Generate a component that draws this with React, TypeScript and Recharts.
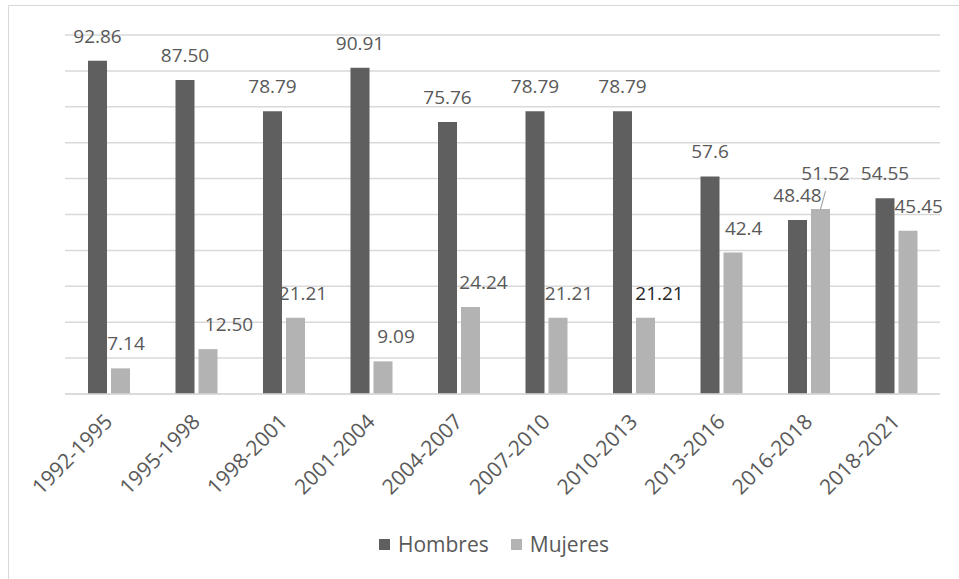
import { BarChart, Bar, XAxis, YAxis, CartesianGrid, Legend, LabelList } from "recharts";

const periodos = [
  "1992-1995",
  "1995-1998",
  "1998-2001",
  "2001-2004",
  "2004-2007",
  "2007-2010",
  "2010-2013",
  "2013-2016",
  "2016-2018",
  "2018-2021",
];
// alturas de barra (2013-2016 se dibuja más alto que su etiqueta)
const hombres = [92.86, 87.5, 78.79, 90.91, 75.76, 78.79, 78.79, 60.61, 48.48, 54.55];
const mujeres = [7.14, 12.5, 21.21, 9.09, 24.24, 21.21, 21.21, 39.39, 51.52, 45.45];
const etiquetasHombres = ["92.86", "87.50", "78.79", "90.91", "75.76", "78.79", "78.79", "57.6", "48.48", "54.55"];
const etiquetasMujeres = ["7.14", "12.50", "21.21", "9.09", "24.24", "21.21", "21.21", "42.4", "51.52", "45.45"];
const yTicks = [0, 10, 20, 30, 40, 50, 60, 70, 80, 90, 100];

// desplazamientos de las etiquetas de Mujeres (como en el original)
const dxMujeres = [5.5, 21, 7.5, 13, 13, 11, 14, 10.7, 5, 10.7];
const dyMujeres = [0, 0, 0, 0, 0, 0, 0, 0, -11, 0];

const OSCURO = "#5f5f5f";
const CLARO = "#b3b3b3";
const TEXTO = "#595959";
const FUENTE = "'Open Sans', sans-serif";

const data = periodos.map((p, i) => ({
  periodo: p,
  Hombres: hombres[i],
  Mujeres: mujeres[i],
}));

const EtiquetaHombres = (props: any) => {
  const { x, y, width, index } = props;
  return (
    <text x={x + width / 2} y={y - 18} textAnchor="middle" fill={TEXTO} fontSize={19} fontFamily={FUENTE}>
      {etiquetasHombres[index]}
    </text>
  );
};

const EtiquetaMujeres = (props: any) => {
  const { x, y, width, index } = props;
  const cx = x + width / 2;
  const dx = dxMujeres[index];
  const dy = dyMujeres[index];
  return (
    <g>
      {dy !== 0 && <line x1={cx} y1={y} x2={cx + 5} y2={y - 18} stroke="#a6a6a6" strokeWidth={1.2} />}
      <text
        x={cx + dx}
        y={y - 18 + dy}
        textAnchor="middle"
        fill={index === 6 ? "#262626" : TEXTO}
        fontSize={19}
        fontFamily={FUENTE}
      >
        {etiquetasMujeres[index]}
      </text>
    </g>
  );
};

const TickPeriodo = (props: any) => {
  const { x, y, payload } = props;
  const ax = x + 5;
  const ay = y + 21;
  return (
    <text
      x={ax}
      y={ay}
      transform={`rotate(-45, ${ax}, ${ay})`}
      textAnchor="end"
      fill={TEXTO}
      fontSize={21}
      fontFamily={FUENTE}
    >
      {payload.value}
    </text>
  );
};

const Leyenda = () => (
  <div
    style={{
      display: "flex",
      justifyContent: "center",
      alignItems: "center",
      height: 40,
      paddingTop: 4,
      marginLeft: -17,
      fontFamily: FUENTE,
      fontSize: 21,
      color: TEXTO,
    }}
  >
    <span style={{ display: "inline-block", width: 11, height: 11, background: OSCURO, marginRight: 8 }} />
    <span style={{ marginRight: 22 }}>Hombres</span>
    <span style={{ display: "inline-block", width: 11, height: 11, background: CLARO, marginRight: 8 }} />
    <span>Mujeres</span>
  </div>
);

export default function App() {
  return (
    <div
      style={{
        position: "absolute",
        left: 0,
        top: 0,
        width: 959,
        height: 579,
        background: "#fff",
        overflow: "hidden",
      }}
    >
      <div
        style={{
          position: "absolute",
          left: 8,
          top: 5,
          width: 1000,
          height: 1000,
          border: "1.5px solid #d9d9d9",
        }}
      />
      <div style={{ position: "absolute", left: 0, top: 0 }}>
        <BarChart
          width={959}
          height={579}
          data={data}
          margin={{ top: 35, right: 19, bottom: 19, left: 65 }}
          barCategoryGap="26%"
          barGap={4}
        >
          <CartesianGrid vertical={false} stroke="#d9d9d9" strokeWidth={1.5} />
          <YAxis hide domain={[0, 100]} ticks={yTicks} />
          <XAxis
            dataKey="periodo"
            height={126}
            interval={0}
            tickLine={false}
            axisLine={{ stroke: "#d9d9d9", strokeWidth: 1.5 }}
            tick={<TickPeriodo />}
          />
          <Legend height={40} verticalAlign="bottom" content={<Leyenda />} />
          <Bar dataKey="Hombres" fill={OSCURO} barSize={19} isAnimationActive={false}>
            <LabelList dataKey="Hombres" content={<EtiquetaHombres />} />
          </Bar>
          <Bar dataKey="Mujeres" fill={CLARO} barSize={19} isAnimationActive={false}>
            <LabelList dataKey="Mujeres" content={<EtiquetaMujeres />} />
          </Bar>
        </BarChart>
      </div>
    </div>
  );
}
